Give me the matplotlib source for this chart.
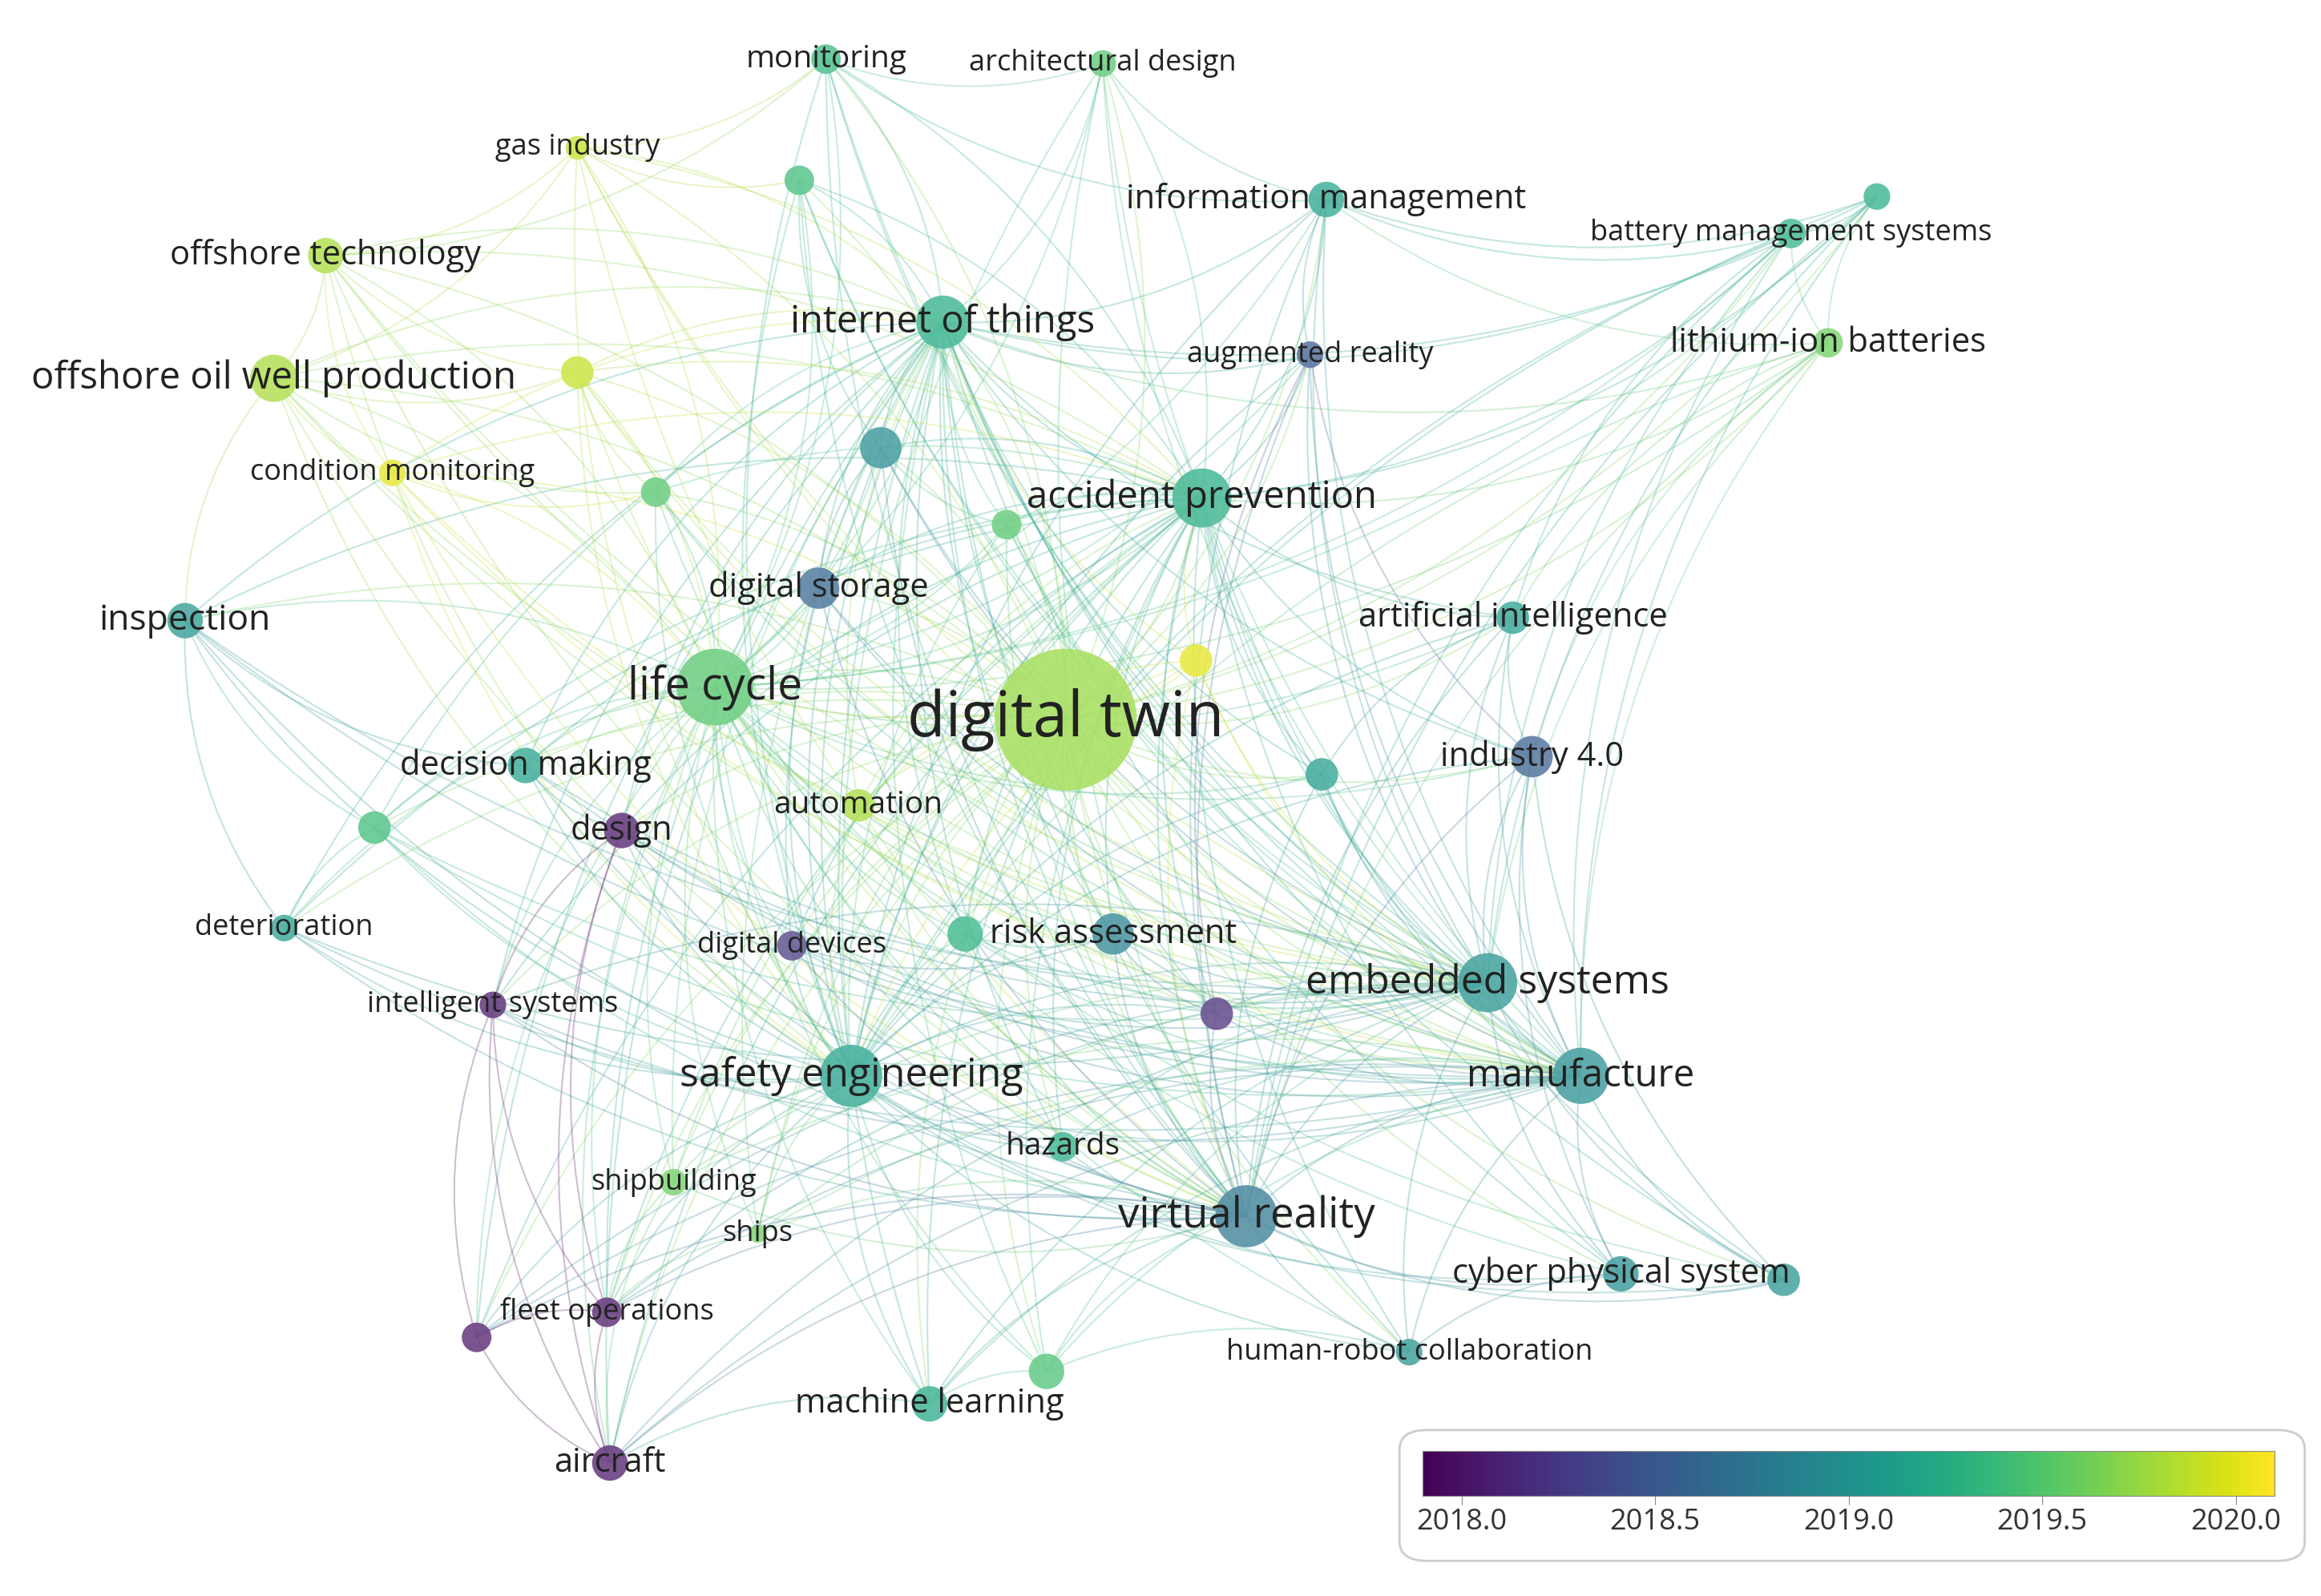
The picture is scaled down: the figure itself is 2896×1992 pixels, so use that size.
import numpy as np
import matplotlib
matplotlib.use("Agg")
import matplotlib.pyplot as plt
from matplotlib.path import Path
from matplotlib.patches import PathPatch, FancyBboxPatch, Circle
from matplotlib.colors import Normalize

plt.rcParams['font.family'] = ['Open Sans', 'DejaVu Sans']

# nodes: label, x, y (image coords, 1568x1080 space), radius, avg pub. year, label font size
labels = ["digital twin", "life cycle", "internet of things", "accident prevention",
          "offshore oil well production", "offshore technology", "gas industry", "monitoring",
          "architectural design", "information management", "battery management systems", "",
          "lithium-ion batteries", "augmented reality", "", "", "condition monitoring", "", "", "",
          "digital storage", "inspection", "artificial intelligence", "", "decision making",
          "industry 4.0", "", "design", "automation", "", "deterioration", "digital devices",
          "", "risk assessment", "embedded systems", "", "intelligent systems",
          "safety engineering", "manufacture", "hazards", "shipbuilding", "virtual reality",
          "ships", "cyber physical system", "", "fleet operations", "", "human-robot collaboration",
          "", "machine learning", "aircraft"]
xs = [720, 483, 637, 812, 185, 220, 390, 558, 745, 896, 1210, 1268, 1235, 885, 540, 390, 265, 443,
      595, 680, 553, 125, 1022, 808, 355, 1035, 893, 420, 580, 253, 192, 535, 652, 752, 1005, 822,
      333, 575, 1068, 718, 455, 842, 512, 1095, 1205, 410, 322, 952, 707, 628, 412]
ys = [487, 465, 218, 337, 256, 173, 100, 40, 43, 135, 158, 133, 232, 240, 122, 252, 320, 333,
      303, 355, 398, 420, 418, 447, 518, 512, 524, 562, 545, 560, 628, 640, 632, 632, 665, 686,
      680, 728, 728, 776, 800, 823, 835, 862, 866, 888, 905, 915, 928, 950, 990]
sizes = [48, 26, 18, 20, 16, 12, 8, 10, 9, 12, 10, 9, 10, 9, 10, 11, 9, 10, 14, 10, 14, 12, 11,
         11, 12, 14, 11, 12, 11, 11, 9, 10, 12, 14, 20, 11, 9, 21, 19, 10, 9, 21, 6, 12, 11, 10,
         10, 9, 12, 12, 12]
years = [2019.75, 2019.5, 2019.25, 2019.25, 2019.8, 2019.8, 2019.9, 2019.35, 2019.5, 2019.15, 2019.3,
         2019.25, 2019.6, 2018.5, 2019.4, 2019.9, 2020.0, 2019.5, 2018.95, 2019.5, 2018.6, 2019.05,
         2019.1, 2020.0, 2019.15, 2018.55, 2019.1, 2018.0, 2019.8, 2019.4, 2019.1, 2018.25, 2019.3,
         2018.85, 2019.0, 2018.15, 2018.0, 2019.15, 2018.95, 2019.25, 2019.6, 2018.75, 2019.6, 2018.95,
         2019.0, 2018.0, 2018.0, 2019.0, 2019.45, 2019.2, 2018.0]
fonts = [56, 40, 34, 34, 34, 30, 26, 28, 26, 30, 26, 0, 30, 26, 0, 0, 26, 0, 0, 0, 30, 32, 30,
         0, 30, 30, 0, 30, 28, 0, 26, 26, 0, 30, 36, 0, 26, 36, 34, 28, 26, 38, 26, 30, 0, 26, 0,
         26, 0, 30, 30]

hubs = [0, 1, 2, 3, 37, 34, 41, 38]
extra_edges = [(4, 5), (4, 6), (4, 15), (4, 16), (4, 17), (4, 21), (5, 6), (5, 15), (5, 16),
               (5, 7), (6, 7), (6, 14), (7, 8), (7, 9), (8, 9), (9, 10), (9, 12), (9, 13),
               (10, 11), (10, 12), (11, 12), (12, 25), (12, 22), (13, 25), (13, 35), (21, 30),
               (21, 29), (21, 24), (24, 27), (27, 36), (27, 45), (27, 50), (36, 45), (36, 46),
               (36, 50), (45, 46), (45, 50), (46, 50), (40, 45), (40, 50), (42, 45), (22, 25),
               (25, 43), (25, 44), (43, 44), (43, 47), (47, 48), (49, 48), (49, 50), (33, 35),
               (31, 33), (20, 18), (18, 19), (26, 22), (23, 28), (32, 33), (39, 41), (29, 30),
               (16, 17), (15, 17), (14, 18), (7, 5), (10, 22), (11, 9), (12, 34), (44, 38)]

norm = Normalize(2017.9, 2020.1)
cmap = plt.get_cmap('viridis')


def lighten(c, f):
    return tuple(c[i] + (1 - c[i]) * f for i in range(3))


fig = plt.figure(figsize=(28.96, 19.92), dpi=100)
ax = fig.add_axes([0, 0, 1, 1])
ax.set_xlim(0, 1568)
ax.set_ylim(1080, 0)
ax.axis('off')

n = len(labels)
edges = set()
for h in hubs:
    for j in range(n):
        if j != h:
            edges.add(tuple(sorted((h, j))))
for e in extra_edges:
    edges.add(tuple(sorted(e)))

for i, j in sorted(edges):
    x0, y0, x1, y1 = xs[i], ys[i], xs[j], ys[j]
    mx, my = (x0 + x1) / 2, (y0 + y1) / 2
    dx, dy = x1 - x0, y1 - y0
    cx, cy = mx - dy * 0.18, my + dx * 0.18
    p = Path([(x0, y0), (cx, cy), (x1, y1)], [Path.MOVETO, Path.CURVE3, Path.CURVE3])
    c = lighten(cmap(norm(max(years[i], years[j]) - 0.1)), 0.15)
    ax.add_patch(PathPatch(p, fc='none', ec=c, lw=1.5, alpha=0.3, zorder=1))

for k in range(n):
    ax.add_patch(Circle((xs[k], ys[k]), sizes[k], fc=lighten(cmap(norm(years[k])), 0.2),
                        ec='none', alpha=0.9, zorder=3))
for k in range(n):
    if labels[k]:
        ax.text(xs[k], ys[k], labels[k], fontsize=fonts[k], color='#222222',
                ha='center', va='center', zorder=4)

# colour bar box
box = FancyBboxPatch((0.603, 0.022), 0.39, 0.082, boxstyle="round,pad=0,rounding_size=0.012",
                     transform=ax.transAxes, fc='white', ec='#cccccc', lw=2, zorder=6)
ax.add_patch(box)
cax = fig.add_axes([0.613, 0.063, 0.367, 0.028])
cax.set_zorder(10)
cax.imshow(np.linspace(0, 1, 256)[None, :], aspect='auto', cmap=cmap,
           extent=[2017.9, 2020.1, 0, 1])
cax.set_xlim(2017.9, 2020.1)
cax.set_yticks([])
cax.set_xticks([2018.0, 2018.5, 2019.0, 2019.5, 2020.0])
cax.set_xticklabels(["2018.0", "2018.5", "2019.0", "2019.5", "2020.0"], fontsize=26, color='#333333')
cax.tick_params(axis='x', length=8, color='#888888')
for s in cax.spines.values():
    s.set_color('#888888')

fig.savefig("out.png", dpi=100)
